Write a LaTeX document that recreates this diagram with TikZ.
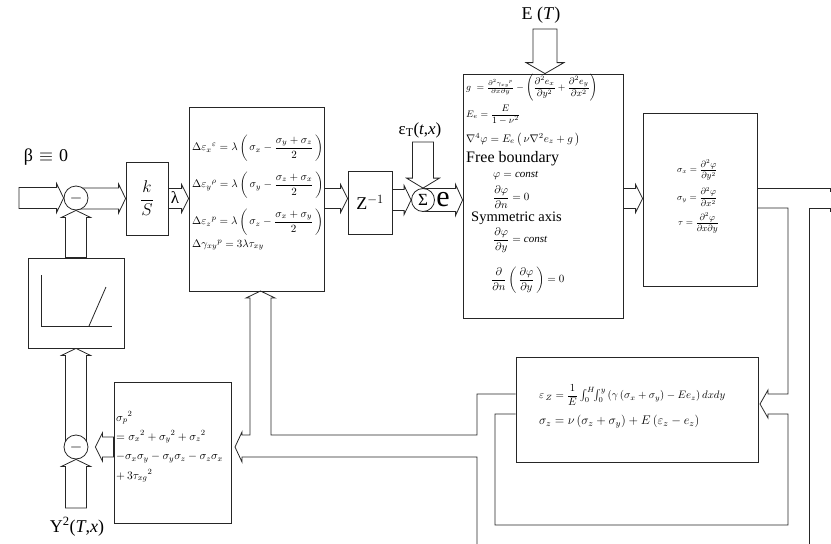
\documentclass[tikz,border=0pt]{standalone}
\usepackage{fix-cm}
\usepackage{amsmath}
\usepackage{fontspec}
\setmainfont{Liberation Serif}
\usetikzlibrary{calc,backgrounds}

% hollow block arrows: shaft half-width, head overhang, head length (pt)
\newcommand\shw{10.5}
\newcommand\hdp{4}
\newcommand\hdl{7}
\newcommand\fsz[1]{\fontsize{#1}{#1}\selectfont}

% #1 tail point, #2 tip point
\newcommand\arR[2]{\draw[pipe] let \p1=#1, \p2=#2 in
 (\x1,\y2+\shw pt) -- (\x2-\hdl pt,\y2+\shw pt) -- (\x2-\hdl pt,\y2+\shw pt+\hdp pt) -- (\x2,\y2)
 -- (\x2-\hdl pt,\y2-\shw pt-\hdp pt) -- (\x2-\hdl pt,\y2-\shw pt) -- (\x1,\y2-\shw pt) -- cycle;}
\newcommand\arL[2]{\draw[pipe] let \p1=#1, \p2=#2 in
 (\x1,\y2+\shw pt) -- (\x2+\hdl pt,\y2+\shw pt) -- (\x2+\hdl pt,\y2+\shw pt+\hdp pt) -- (\x2,\y2)
 -- (\x2+\hdl pt,\y2-\shw pt-\hdp pt) -- (\x2+\hdl pt,\y2-\shw pt) -- (\x1,\y2-\shw pt) -- cycle;}
\newcommand\arU[2]{\draw[pipe] let \p1=#1, \p2=#2 in
 (\x2-\shw pt,\y1) -- (\x2-\shw pt,\y2-\hdl pt) -- (\x2-\shw pt-\hdp pt,\y2-\hdl pt) -- (\x2,\y2)
 -- (\x2+\shw pt+\hdp pt,\y2-\hdl pt) -- (\x2+\shw pt,\y2-\hdl pt) -- (\x2+\shw pt,\y1) -- cycle;}
\newcommand\arD[2]{\draw[pipe] let \p1=#1, \p2=#2 in
 (\x2-\shw pt,\y1) -- (\x2-\shw pt,\y2+\hdl pt) -- (\x2-\shw pt-\hdp pt,\y2+\hdl pt) -- (\x2,\y2)
 -- (\x2+\shw pt+\hdp pt,\y2+\hdl pt) -- (\x2+\shw pt,\y2+\hdl pt) -- (\x2+\shw pt,\y1) -- cycle;}

\begin{document}
\begin{tikzpicture}[x=1pt,y=-1pt,
  pipe/.style={draw=black!85, line width=0.8pt, line join=miter},
  box/.style={draw=black!85, fill=white, line width=0.8pt, inner sep=0pt},
  sumc/.style={circle, draw=black!85, fill=white, line width=0.8pt, inner sep=0pt, minimum size=24},
  eq/.style={anchor=west, inner sep=0pt},
  lbl/.style={inner sep=0pt}]
\useasboundingbox (0,0) rectangle (831,544);

% ---- blocks ----
\node[sumc] (c1) at (76,198) {\fsz{16}$-$};
\node[box, minimum width=42, minimum height=73] (ks) at (147,198.5) {\fsz{17}$\dfrac{k}{S}$};
\node[box, minimum width=135, minimum height=184] (plast) at (256.5,199) {};
\node[box, minimum width=44, minimum height=63] (zinv) at (370,202.5) {\fsz{18}Z$^{-1}$};
\node[sumc, minimum size=23] (sig) at (423,200) {\fsz{17}Σ};
\node[box, minimum width=160, minimum height=244] (big) at (543,196) {};
\node[box, minimum width=114, minimum height=173] (sbox) at (700,199.5) {};
\node[box, minimum width=242, minimum height=105] (ez) at (637,409.5) {};
\node[box, minimum width=117, minimum height=141] (sp) at (172.5,452.5) {};
\node[box, minimum width=96, minimum height=90] (nl) at (76,303) {};
\node[sumc] (c2) at (76,447) {\fsz{16}$-$};

% ---- free ends of the input arrows ----
\coordinate (row) at (0,198.5);
\coordinate (inL) at (19,198);
\coordinate (Etop) at (545,29);
\coordinate (eTtop) at (423,142);
\coordinate (Ybot) at (76,508);

% ---- hollow arrows (behind the blocks) ----
\begin{pgfonlayer}{background}
\arR{(inL)}{(c1.west)}
\arR{(c1.center)}{(ks.west |- row)}
{\def\shw{10}\arR{(ks.east |- row)}{(plast.west |- row)}}
{\def\shw{10}\arR{(plast.east |- row)}{(zinv.west |- row)}}
\arR{(zinv.east |- sig)}{(sig.west)}
{\def\shw{11.5}\arR{(sig.center)}{(big.west |- sig)}}
{\def\shw{10}\arR{(big.east |- row)}{(sbox.west |- row)}}
{\def\shw{12}\def\hdp{7}\def\hdl{11}\arD{(Etop)}{(big.north -| Etop)}}
{\def\hdp{6}\def\hdl{10}\arD{(eTtop)}{(sig.north)}}
\arU{(nl.north)}{(c1.south)}
\arU{(c2.center)}{(nl.south)}
\arU{(Ybot)}{(c2.south)}
{\def\shw{10}\arL{(sp.west |- c2)}{($(c2.east)+(7,0)$)}}
\end{pgfonlayer}

% ---- feedback lines ----
\draw[pipe] (477,544) -- (477,457) -- (242,457) -- (242,462) -- (235,447) -- (242,432) -- (242,435)
  -- (250,435) -- (250,298) -- (246,298) -- (260.5,291) -- (275,298) -- (271,298) -- (271,435)
  -- (477,435) -- (477,394) -- (ez.west |- 0,394);
\draw[pipe] (ez.west |- 0,414) -- (495,414) -- (495,525) -- (788,525) -- (788,414) -- (768,414)
  -- (768,418) -- (760,404) -- (768,390) -- (768,394) -- (788,394) -- (788,208) -- (sbox.east |- 0,208);
\draw[pipe] (sbox.east |- 0,188) -- (830,188) -- (830,192);
\draw[pipe] (809,544) -- (809,208) -- (830,208) -- (830,212);

% ---- yield characteristic ----
\draw[pipe] (41,275) -- (41,326) -- (112,326);
\draw[pipe] (89,326) -- (106,287);

% ---- labels ----
\node[lbl, font=\fsz{18}] (beta) at (46,157) {β\,\,$\equiv$\,\,0};
\node[lbl, font=\fsz{18}] (Elbl) at (541,15) {E (\textit{T})};
\node[lbl, font=\fsz{17}] (eTlbl) at (420,130) {ε$_{\mathrm{T}}$(\textit{t},\textit{x})};
\node[lbl, font=\fsz{18}] (Ylbl) at (77,527) {Y\textsuperscript{2}(\textit{T},\textit{x})};
\node[lbl, font=\fsz{17}] (lam) at (175,198) {λ};
\node[lbl, font=\fsz{30}] (ee) at (443,200) {e};

% ---- plastic strain increments ----
\node[eq, font=\fsz{11}] (p1) at (192,148) {$\Delta\varepsilon_x{}^{\varepsilon}=\lambda\left(\,\sigma_x-\dfrac{\sigma_y+\sigma_z}{2}\,\right)$};
\node[eq, font=\fsz{11}] (p2) at (192,185) {$\Delta\varepsilon_y{}^{\rho}=\lambda\left(\,\sigma_y-\dfrac{\sigma_z+\sigma_x}{2}\,\right)$};
\node[eq, font=\fsz{11}] (p3) at (192,222) {$\Delta\varepsilon_z{}^{p}=\lambda\left(\,\sigma_z-\dfrac{\sigma_x+\sigma_y}{2}\,\right)$};
\node[eq, font=\fsz{11}] (p4) at (192,245) {$\Delta\gamma_{xy}{}^{p}=3\lambda\tau_{xy}$};

% ---- stress function problem ----
\node[eq, font=\fsz{9.5}] (g1) at (466,88) {$g\;=\frac{\partial^2\gamma_{xy}{}^{p}}{\partial x\partial y}-\left(\dfrac{\partial^2e_x}{\partial y^2}+\dfrac{\partial^2e_y}{\partial x^2}\right)$};
\node[eq, font=\fsz{9.5}] (g2) at (466,114.5) {$E_e=\dfrac{E}{1-\nu^2}$};
\node[eq, font=\fsz{11}] (g3) at (466,139.5) {$\nabla^4\varphi=E_e\left(\,\nu\nabla^2e_z+g\,\right)$};
\node[eq, font=\fsz{16}] (g4) at (466,159) {Free boundary};
\node[eq, font=\fsz{11}] (g5) at (493,175.5) {$\varphi=\mathit{const}$};
\node[eq, font=\fsz{11}] (g6) at (493,197) {$\dfrac{\partial\varphi}{\partial n}=0$};
\node[eq, font=\fsz{14.5}] (g7) at (471,218) {Symmetric axis};
\node[eq, font=\fsz{11}] (g8) at (493,240) {$\dfrac{\partial\varphi}{\partial y}=\mathit{const}$};
\node[eq, font=\fsz{11}] (g9) at (491,280) {$\dfrac{\partial}{\partial n}\left(\,\dfrac{\partial\varphi}{\partial y}\,\right)=0$};

% ---- stresses ----
\node[eq, font=\fsz{9}] (s1) at (677,170) {$\sigma_x=\dfrac{\partial^2\varphi}{\partial y^2}$};
\node[eq, font=\fsz{9}] (s2) at (677,197) {$\sigma_y=\dfrac{\partial^2\varphi}{\partial x^2}$};
\node[eq, font=\fsz{9}] (s3) at (678,223) {$\tau=\dfrac{\partial^2\varphi}{\partial x\partial y}$};

% ---- axial strain and stress ----
\node[eq, font=\fsz{10.8}] (z1) at (539,395) {$\varepsilon_{\,Z}=\dfrac{1}{E}\int_0^H\!\!\int_0^y\left(\gamma\left(\sigma_x+\sigma_y\right)-Ee_z\right)dxdy$};
\node[eq, font=\fsz{12.5}] (z2) at (539,422) {$\sigma_z=\nu\left(\sigma_z+\sigma_y\right)+E\left(\varepsilon_z-e_z\right)$};

% ---- equivalent stress ----
\node[eq, font=\fsz{11.5}] (q1) at (116,418) {$\sigma_p{}^2$};
\node[eq, font=\fsz{11.5}] (q2) at (116,437) {$=\sigma_x{}^2+\sigma_y{}^2+\sigma_z{}^2$};
\node[eq, font=\fsz{11.5}] (q3) at (116,458) {$-\sigma_x\sigma_y-\sigma_y\sigma_z-\sigma_z\sigma_x$};
\node[eq, font=\fsz{11.5}] (q4) at (116,476) {$+\,3\tau_{xg}{}^2$};
\end{tikzpicture}
\end{document}
